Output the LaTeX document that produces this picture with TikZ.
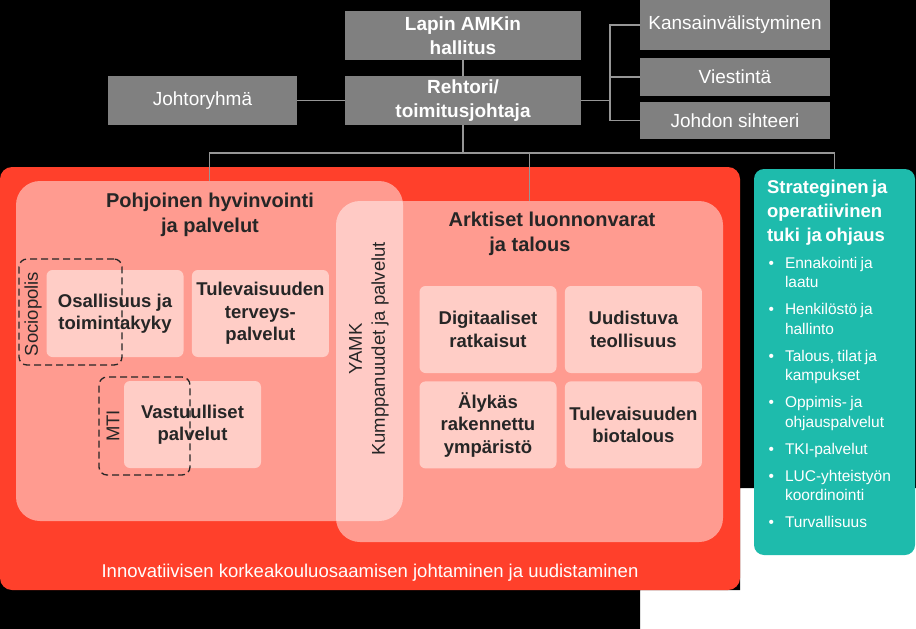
\documentclass[tikz,border=0pt]{standalone}
\usepackage{fontspec}
\setmainfont{Liberation Sans}
\usetikzlibrary{positioning}
\definecolor{boxgray}{RGB}{128,128,128}
\definecolor{linegray}{RGB}{150,150,150}
\definecolor{lapinred}{RGB}{255,64,43}
\definecolor{innerpink}{RGB}{255,205,198}
\definecolor{darktext}{RGB}{38,38,38}
\definecolor{tukiteal}{RGB}{30,187,172}
\newcommand{\orgfont}{\fontsize{19}{24}\selectfont}
\newcommand{\unitfont}{\fontsize{18.5}{22.5}\selectfont\bfseries}
\newcommand{\listfont}{\fontsize{15.5}{19.5}\selectfont}
\newenvironment{tukilist}{\begin{list}{\textbullet}{%
  \setlength{\leftmargin}{18pt}\setlength{\labelsep}{11pt}%
  \setlength{\labelwidth}{7pt}\setlength{\itemsep}{7.5pt}%
  \setlength{\parsep}{0pt}\setlength{\topsep}{7.5pt}%
  \setlength{\partopsep}{0pt}}}{\end{list}}
\tikzset{
  graybox/.style={rectangle, fill=boxgray, text=white,
    align=center, font=\orgfont, inner sep=2pt},
  conn/.style={draw=linegray, line width=1.6pt},
  redbox/.style={rectangle, rounded corners=12pt, fill=lapinred,
    minimum width=740pt, minimum height=423pt},
  areabox/.style={rectangle, rounded corners=24pt,
    fill=white, fill opacity=0.48},
  areatitle/.style={align=center, text=darktext,
    font=\fontsize{20}{25}\selectfont\bfseries},
  unitbox/.style={rectangle, rounded corners=6pt, fill=innerpink,
    text=darktext, align=center, font=\unitfont,
    minimum width=137pt, minimum height=87pt, inner sep=1pt},
  hubbox/.style={rectangle, rounded corners=8pt, draw=darktext,
    line width=1.3pt, dash pattern=on 7pt off 4pt},
  sidelabel/.style={rotate=90, text=darktext, align=center,
    font=\fontsize{18.5}{23}\selectfont},
  tukibox/.style={rectangle, rounded corners=10pt, fill=tukiteal,
    minimum width=161pt, minimum height=386pt},
  tukitext/.style={text=white, text width=138pt, align=left, inner sep=0pt},
}
\begin{document}
\begin{tikzpicture}[x=1pt, y=-1pt]
  \useasboundingbox (0,0) rectangle (916,629);
  % background
  \fill[white] (0,0) rectangle (916,629);
  \fill[black] (0,0) -- (916,0) -- (916,488) -- (740,488) -- (740,590)
    -- (640,590) -- (640,629) -- (0,629) -- cycle;

  % johto
  \node[graybox, font=\orgfont\bfseries, minimum width=236pt,
    minimum height=49pt] (hallitus) at (463,35.5) {Lapin AMKin\\hallitus};
  \node[graybox, font=\orgfont\bfseries, minimum width=236pt,
    minimum height=49pt] (rehtori) at (463,100.5) {Rehtori/\\toimitusjohtaja};
  \node[graybox, minimum width=189pt, minimum height=49pt]
    (johtoryhma) at (202.5,100.5) {Johtoryhmä};
  \node[graybox, minimum width=190pt, minimum height=50pt]
    (kansainv) at (735,25) {Kansainvälistyminen};
  \node[graybox, minimum width=190pt, minimum height=38pt]
    (viestinta) at (735,77) {Viestintä};
  \node[graybox, minimum width=190pt, minimum height=37pt]
    (sihteeri) at (735,120.5) {Johdon sihteeri};

  % osaamisalueet
  \node[redbox] (innovaatio) at (370,378.5) {};
  \node[areabox, minimum width=387pt, minimum height=340pt]
    (pohjoinen) at (209.5,351) {};
  \node[areabox, minimum width=387pt, minimum height=341pt]
    (arktiset) at (529.5,371.5) {};
  \node[areatitle] (pohjoinen-t) at (210,215) {Pohjoinen hyvinvointi\\ja palvelut};
  \node[areatitle] (arktiset-t) at (552,234) {Arktiset luonnonvarat\\ja talous\hspace*{44pt}};
  \node[sidelabel] (yamk) at (369,349) {YAMK\\Kumppanuudet ja palvelut};

  \node[unitbox] (osallisuus) at (115,313.5) {Osallisuus ja\\toimintakyky};
  \node[unitbox, right=8pt of osallisuus] (terveys) {Tulevaisuuden\\terveys-\\palvelut};
  \node[unitbox] (vastuulliset) at (192.5,424.5) {Vastuulliset\\palvelut};
  \node[unitbox] (digi) at (488,329.5) {Digitaaliset\\ratkaisut};
  \node[unitbox, right=8pt of digi] (teollisuus) {Uudistuva\\teollisuus};
  \node[unitbox, below=8pt of digi] (ymparisto) {Älykäs\\rakennettu\\ympäristö};
  \node[unitbox, below=8pt of teollisuus] (biotalous) {Tulevaisuuden\\biotalous};

  \node[hubbox, minimum width=103pt, minimum height=106pt]
    (sociopolis) at (70.5,312) {};
  \node[sidelabel] (sociopolis-t) at (33,314) {Sociopolis};
  \node[hubbox, minimum width=91pt, minimum height=98pt]
    (mti) at (144.5,426) {};
  \node[sidelabel] (mti-t) at (113,426) {MTI};

  \node[text=white, font=\fontsize{18.5}{22}\selectfont] (innovaatio-t)
    at (370,573) {Innovatiivisen korkeakouluosaamisen johtaminen ja uudistaminen};

  % tuki
  \node[tukibox] (tuki) at (834.5,362) {};
  \node[tukitext, below right=11pt and 13pt of tuki.north west] (tuki-t) {%
    {\fontsize{18.5}{24}\selectfont\bfseries Strateginen ja\\operatiivinen\\tuki~ ja ohjaus\par}
    \listfont
    \begin{tukilist}
      \item Ennakointi ja\\laatu
      \item Henkilöstö ja\\hallinto
      \item Talous, tilat ja\\kampukset
      \item Oppimis- ja\\ohjauspalvelut
      \item TKI-palvelut
      \item LUC-yhteistyön\\koordinointi
      \item Turvallisuus
    \end{tukilist}};

  % yhteydet
  \coordinate (bus) at (463,153);
  \coordinate (sidebus) at (610,100.5);
  \draw[conn] (hallitus) -- (rehtori);
  \draw[conn] (johtoryhma) -- (rehtori);
  \draw[conn] (rehtori.east) -- (sidebus);
  \draw[conn] (kansainv.west) -| (sidebus);
  \draw[conn] (sihteeri.west) -| (sidebus);
  \draw[conn] (viestinta.west) -- (viestinta.west -| sidebus);
  \draw[conn] (rehtori) -- (bus);
  \draw[conn] (pohjoinen.north) |- (bus) -| (tuki.north);
  \draw[conn] (arktiset.north) -- (arktiset.north |- bus);
\end{tikzpicture}
\end{document}
